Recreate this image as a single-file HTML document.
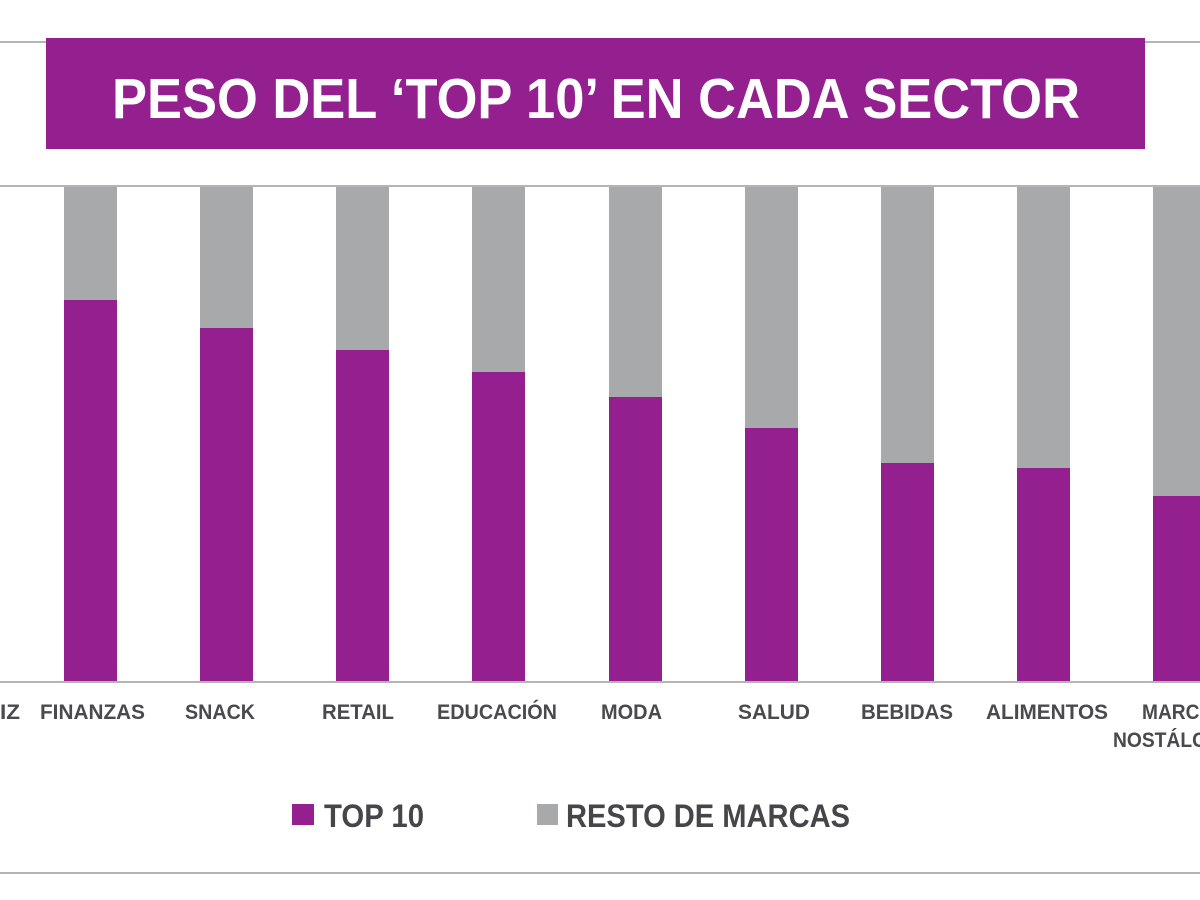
<!DOCTYPE html>
<html>
<head>
<meta charset="utf-8">
<style>
html,body{margin:0;padding:0;background:#fff;}
svg{display:block;}
text{font-family:"Liberation Sans",sans-serif;font-weight:bold;}
</style>
</head>
<body>
<svg width="1200" height="900" viewBox="0 0 1200 900" xmlns="http://www.w3.org/2000/svg">
<rect x="0" y="0" width="1200" height="900" fill="#ffffff"/>
<!-- top line -->
<rect x="0" y="41" width="1200" height="2" fill="#b4b4b4"/>
<!-- title box -->
<rect x="46" y="38" width="1099" height="111" fill="#94208f"/>
<text x="112" y="118" font-size="57" fill="#ffffff" textLength="968" lengthAdjust="spacingAndGlyphs">PESO DEL ‘TOP 10’ EN CADA SECTOR</text>
<!-- second line -->
<rect x="0" y="185" width="1200" height="2" fill="#b4b4b4"/>
<!-- bars -->
<g fill="#a8a9ab">
<rect x="64" y="187" width="53" height="495"/>
<rect x="200" y="187" width="53" height="495"/>
<rect x="336" y="187" width="53" height="495"/>
<rect x="472" y="187" width="53" height="495"/>
<rect x="609" y="187" width="53" height="495"/>
<rect x="745" y="187" width="53" height="495"/>
<rect x="881" y="187" width="53" height="495"/>
<rect x="1017" y="187" width="53" height="495"/>
<rect x="1153" y="187" width="53" height="495"/>
</g>
<g fill="#94208f">
<rect x="64" y="300" width="53" height="382"/>
<rect x="200" y="328" width="53" height="354"/>
<rect x="336" y="350" width="53" height="332"/>
<rect x="472" y="372" width="53" height="310"/>
<rect x="609" y="397" width="53" height="285"/>
<rect x="745" y="428" width="53" height="254"/>
<rect x="881" y="463" width="53" height="219"/>
<rect x="1017" y="468" width="53" height="214"/>
<rect x="1153" y="496" width="53" height="186"/>
</g>
<!-- axis line -->
<rect x="0" y="681" width="1200" height="2" fill="#b4b4b4"/>
<!-- labels -->
<g font-size="21" fill="#4a4a4c">
<text x="0" y="719" textLength="20" lengthAdjust="spacingAndGlyphs">IZ</text>
<text x="40" y="719" textLength="105" lengthAdjust="spacingAndGlyphs">FINANZAS</text>
<text x="185" y="719" textLength="70" lengthAdjust="spacingAndGlyphs">SNACK</text>
<text x="322" y="719" textLength="72" lengthAdjust="spacingAndGlyphs">RETAIL</text>
<text x="437" y="719" textLength="120" lengthAdjust="spacingAndGlyphs">EDUCACIÓN</text>
<text x="601" y="719" textLength="61" lengthAdjust="spacingAndGlyphs">MODA</text>
<text x="738" y="719" textLength="72" lengthAdjust="spacingAndGlyphs">SALUD</text>
<text x="861" y="719" textLength="92" lengthAdjust="spacingAndGlyphs">BEBIDAS</text>
<text x="986" y="719" textLength="122" lengthAdjust="spacingAndGlyphs">ALIMENTOS</text>
<text x="1142" y="719" textLength="84" lengthAdjust="spacingAndGlyphs">MARCAS</text>
<text x="1113" y="747" textLength="140" lengthAdjust="spacingAndGlyphs">NOSTÁLGICAS</text>
</g>
<!-- legend -->
<rect x="292" y="804" width="22" height="21" fill="#94208f"/>
<text x="324" y="827" font-size="32" fill="#46464a" textLength="100" lengthAdjust="spacingAndGlyphs">TOP 10</text>
<rect x="537" y="804" width="21" height="21" fill="#a8a9ab"/>
<text x="566" y="827" font-size="32" fill="#46464a" textLength="284" lengthAdjust="spacingAndGlyphs">RESTO DE MARCAS</text>
<!-- bottom line -->
<rect x="0" y="872" width="1200" height="2" fill="#b4b4b4"/>
</svg>
</body>
</html>
